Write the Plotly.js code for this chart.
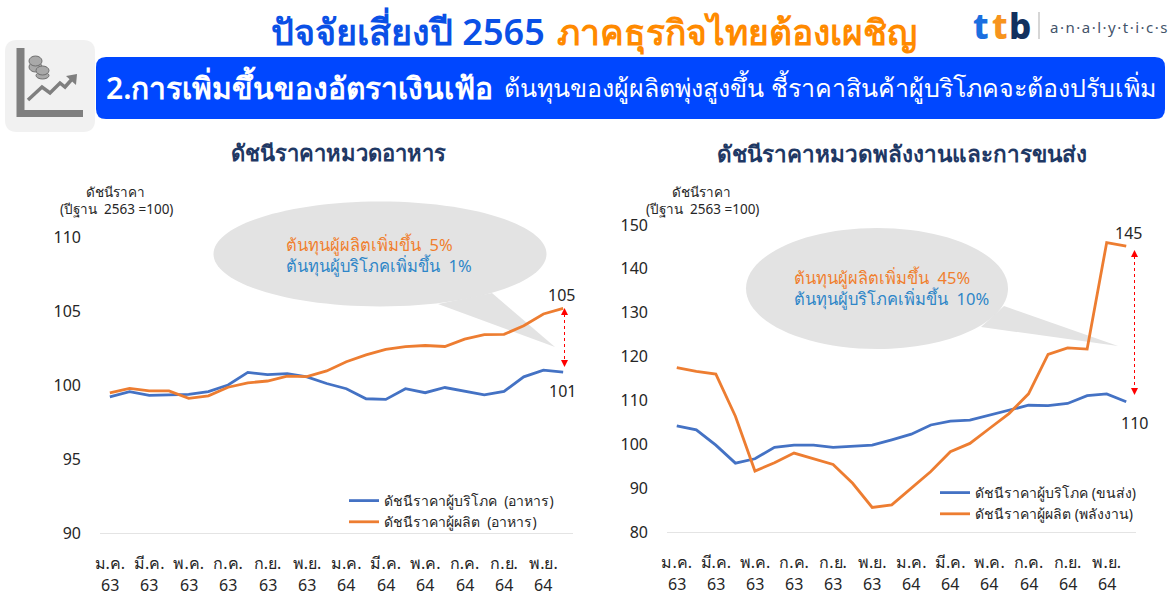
<!DOCTYPE html>
<html><head><meta charset="utf-8">
<script src="https://cdn.plot.ly/plotly-3.0.1.min.js"></script>
<style>html,body{margin:0;padding:0;background:#fff}#c{width:1172px;height:595px}</style></head>
<body><div id="c"></div>
<script>
const months = ["ม.ค. 63","ก.พ. 63","มี.ค. 63","เม.ย. 63","พ.ค. 63","มิ.ย. 63","ก.ค. 63","ส.ค. 63","ก.ย. 63","ต.ค. 63","พ.ย. 63","ธ.ค. 63",
                "ม.ค. 64","ก.พ. 64","มี.ค. 64","เม.ย. 64","พ.ค. 64","มิ.ย. 64","ก.ค. 64","ส.ค. 64","ก.ย. 64","ต.ค. 64","พ.ย. 64","ธ.ค. 64"];
const foodConsumer = [99.2,99.55,99.3,99.33,99.37,99.55,100,100.85,100.7,100.77,100.55,100.1,99.75,99.07,99.03,99.75,99.48,99.83,99.6,99.33,99.57,100.55,101,100.87];
const foodProducer = [99.47,99.77,99.6,99.6,99.1,99.27,99.85,100.15,100.27,100.6,100.57,100.95,101.57,102.03,102.4,102.6,102.67,102.6,103.1,103.4,103.42,104,104.8,105.18];
const energyConsumer = [104.2,103.3,99.8,95.7,96.7,99.3,99.8,99.8,99.3,99.5,99.8,101,102.3,104.4,105.3,105.5,106.6,107.7,108.9,108.8,109.3,111.1,111.5,109.7];
const energyProducer = [117.5,116.6,116,106.4,93.9,95.8,98,96.7,95.4,91.1,85.6,86.2,90,93.8,98.3,100.2,103.6,107,111.5,120.5,122,121.7,146,145.2];
const tickMonths = ["ม.ค.","มี.ค.","พ.ค.","ก.ค.","ก.ย.","พ.ย.","ม.ค.","มี.ค.","พ.ค.","ก.ค.","ก.ย.","พ.ย."];
const tickYears = ["63","63","63","63","63","63","64","64","64","64","64","64"];
const foodTicks = [90,95,100,105,110];
const energyTicks = [80,90,100,110,120,130,140,150];

const W=1172,H=595,FONT='"Noto Sans","Open Sans",Roboto,sans-serif';
const BLUE='#4472c4',ORANGE='#ed7d31',NAVY='#1f3864',RED='#ff0000',TXT='#262626',ICON='#7f7f7f';
const px=x=>x/W, py=y=>1-y/H;
const tickCats=months.filter((_,i)=>i%2===0);

function line(x,y,name,color,xa,ya,leg,grp){return {type:'scatter',mode:'lines',x,y,name,xaxis:xa,yaxis:ya,legend:leg,legendgroup:grp,
  line:{color,width:2.8,shape:'linear'},hoverinfo:'skip'};}
const data=[
 line(months,foodConsumer,'ดัชนีราคาผู้บริโภค  (อาหาร)',BLUE,'x','y','legend','a'),
 line(months,foodProducer,'ดัชนีราคาผู้ผลิต  (อาหาร)',ORANGE,'x','y','legend','b'),
 line(months,energyConsumer,'ดัชนีราคาผู้บริโภค (ขนส่ง)',BLUE,'x2','y2','legend2','c'),
 line(months,energyProducer,'ดัชนีราคาผู้ผลิต (พลังงาน)',ORANGE,'x2','y2','legend2','d')
];
const xBase={type:'category',range:[-0.5,23.5],tickmode:'array',tickvals:tickCats,ticktext:tickMonths,tickangle:0,ticks:'',
  showgrid:false,zeroline:false,showline:true,linecolor:'#e4e4e4',linewidth:1,tickfont:{family:FONT,size:16,color:TXT},ticklabelstandoff:16,fixedrange:true};
const yBase={showgrid:false,zeroline:false,showline:false,ticks:'',tickfont:{family:FONT,size:16,color:TXT},ticklabelstandoff:18,fixedrange:true};

const T=(x,y,text,size,color,o={})=>Object.assign({xref:'paper',yref:'paper',x:px(x),y:py(y),text,showarrow:false,xanchor:'center',yanchor:'middle',
   font:{family:FONT,size,color,weight:o.weight||400}},o.xanchor?{xanchor:o.xanchor}:{});
const ann=[
 T(269,31,'ปัจจัยเสี่ยงปี 2565',36,'#0a50e6',{xanchor:'left',weight:600}),
 T(555,31,'ภาคธุรกิจไทยต้องเผชิญ',35.5,'#ff8a00',{xanchor:'left',weight:600}),
 T(104,87,'2.การเพิ่มขึ้นของอัตราเงินเฟ้อ',30,'#fff',{xanchor:'left',weight:600}),
 T(502,87,'ต้นทุนของผู้ผลิตพุ่งสูงขึ้น ชี้ราคาสินค้าผู้บริโภคจะต้องปรับเพิ่ม',25,'#fff',{xanchor:'left'}),
 T(338,152,'ดัชนีราคาหมวดอาหาร',22,NAVY,{weight:600}),
 T(902,154,'ดัชนีราคาหมวดพลังงานและการขนส่ง',22.5,NAVY,{weight:600}),
 T(115,192,'ดัชนีราคา',13.5,TXT), T(116,209,'(ปีฐาน  2563 =100)',13.5,TXT),
 T(701,192,'ดัชนีราคา',13.5,TXT), T(702,209,'(ปีฐาน  2563 =100)',13.5,TXT),
 T(284,244,'ต้นทุนผู้ผลิตเพิ่มขึ้น  5%',16.5,'#f07f2e',{xanchor:'left'}),
 T(284,265,'ต้นทุนผู้บริโภคเพิ่มขึ้น  1%',16.5,'#2e86c8',{xanchor:'left'}),
 T(792,277,'ต้นทุนผู้ผลิตเพิ่มขึ้น  45%',16.5,'#f07f2e',{xanchor:'left'}),
 T(792,298,'ต้นทุนผู้บริโภคเพิ่มขึ้น  10%',16.5,'#2e86c8',{xanchor:'left'}),
 T(561,295,'105',16,TXT), T(562,391,'101',16,TXT), T(1128,233,'145',16,TXT), T(1134,423,'110',16,TXT),
 T(971,26,'t',35,'#1a6fe0',{xanchor:'left',weight:800}),
 T(990,26,'t',35,'#f7941d',{xanchor:'left',weight:800}),
 T(1007,26,'b',35,'#12305e',{xanchor:'left',weight:800}),
 T(1048,27,'a\u200A·\u200An\u200A·\u200Aa\u200A·\u200Al\u200A·\u200Ay\u200A·\u200At\u200A·\u200Ai\u200A·\u200Ac\u200A·\u200As',15,'#44546a',{xanchor:'left'})
];
tickCats.forEach((c,i)=>{
  ann.push({xref:'x',yref:'paper',x:c,y:py(585),text:tickYears[i],showarrow:false,yanchor:'middle',font:{family:FONT,size:16,color:TXT}});
  ann.push({xref:'x2',yref:'paper',x:c,y:py(584),text:tickYears[i],showarrow:false,yanchor:'middle',font:{family:FONT,size:16,color:TXT}});
});

function P(cmds){return cmds.map(c=>c[0]+' '+c.slice(1).map((v,i)=>i%2===0?px(v):py(v)).join(' ')).join(' ');}
function rrect(x0,y0,x1,y1,r){return P([['M',x0+r,y0],['L',x1-r,y0],['Q',x1,y0,x1,y0+r],['L',x1,y1-r],['Q',x1,y1,x1-r,y1],['L',x0+r,y1],['Q',x0,y1,x0,y1-r],['L',x0,y0+r],['Q',x0,y0,x0+r,y0]])+' Z';}
function bubble(cx,cy,rx,ry,a,tip,b){
  const k=0.5523;
  const e=P([['M',cx-rx,cy],['C',cx-rx,cy-k*ry,cx-k*rx,cy-ry,cx,cy-ry],['C',cx+k*rx,cy-ry,cx+rx,cy-k*ry,cx+rx,cy],['C',cx+rx,cy+k*ry,cx+k*rx,cy+ry,cx,cy+ry],['C',cx-k*rx,cy+ry,cx-rx,cy+k*ry,cx-rx,cy]])+' Z';
  const t=P([['M',a[0],a[1]],['L',tip[0],tip[1]],['L',b[0],b[1]]])+' Z';
  return [e,t];
}
const shp=(path,fill,o={})=>Object.assign({type:'path',xref:'paper',yref:'paper',path,fillcolor:fill,line:{width:0},layer:'below'},o);
const seg=(x0,y0,x1,y1,color,width,dash)=>({type:'line',xref:'paper',yref:'paper',x0:px(x0),y0:py(y0),x1:px(x1),y1:py(y1),line:{color,width,dash:dash||'solid'},layer:'below'});
const tri=(x,y,up)=>shp(P([['M',x,y],['L',x-3.5,y+(up?7:-7)],['L',x+3.5,y+(up?7:-7)]])+' Z',RED);
const coin=(x0,y0,x1,y1)=>({type:'circle',xref:'paper',yref:'paper',x0:px(x0),x1:px(x1),y0:py(y0),y1:py(y1),fillcolor:'#a9a9a9',line:{color:'#707070',width:1},layer:'below'});
const shapes=[
 shp(rrect(5,40,95,132,12),'#f1f1f1'),
 shp(rrect(96,57,1165,119,10),'#0047ff'),
 seg(20.5,48,20.5,117,ICON,8), seg(17,113.5,83,113.5,ICON,7),
 {type:'path',xref:'paper',yref:'paper',path:P([['M',28,100],['L',42,87],['L',50,93],['L',60,83],['L',65,87],['L',73,78]]),line:{color:ICON,width:3.5},layer:'below'},
 shp(P([['M',66,76],['L',77,74],['L',76,85]])+' Z',ICON),
 coin(29,62,42,72), coin(29,56,42,66),
 coin(36,72,49,79), coin(36,66,49,75),
 seg(1039,12,1039,39,'#c9c9c9',1.5),
 ...bubble(380,254,166.5,52.5,[438,304],[555,347],[492,293]).map(p=>shp(p,'#e3e3e3')),
 ...bubble(877,288.5,131,60.5,[981,327],[1118,346],[1004,306]).map(p=>shp(p,'#e3e3e3')),
 seg(564.5,314,564.5,361,RED,1,'dot'), tri(564.5,308,true), tri(564.5,367,false),
 seg(1134.5,256,1134.5,389,RED,1,'dot'), tri(1134.5,250,true), tri(1134.5,395,false)
];
const legFont={family:FONT,size:14,color:TXT};
const layout={width:W,height:H,margin:{l:0,r:0,t:0,b:0},paper_bgcolor:'#fff',plot_bgcolor:'rgba(0,0,0,0)',showlegend:true,
 xaxis:Object.assign({},xBase,{domain:[px(100),px(573)],anchor:'y'}),
 yaxis:Object.assign({},yBase,{domain:[py(533),py(237)],range:[90,110],tickmode:'array',tickvals:foodTicks,anchor:'x'}),
 xaxis2:Object.assign({},xBase,{domain:[px(667),px(1136)],anchor:'y2'}),
 yaxis2:Object.assign({},yBase,{domain:[py(532),py(225)],range:[80,150],tickmode:'array',tickvals:energyTicks,anchor:'x2'}),
 legend:{x:px(344),y:py(485),xanchor:'left',yanchor:'top',font:legFont,bgcolor:'rgba(0,0,0,0)',itemwidth:30,tracegroupgap:2,traceorder:'normal'},
 legend2:{x:px(935),y:py(477),xanchor:'left',yanchor:'top',font:legFont,bgcolor:'rgba(0,0,0,0)',itemwidth:30,tracegroupgap:8,traceorder:'normal'},
 annotations:ann,shapes};
Plotly.newPlot('c',data,layout,{displayModeBar:false,staticPlot:true});
</script></body></html>
